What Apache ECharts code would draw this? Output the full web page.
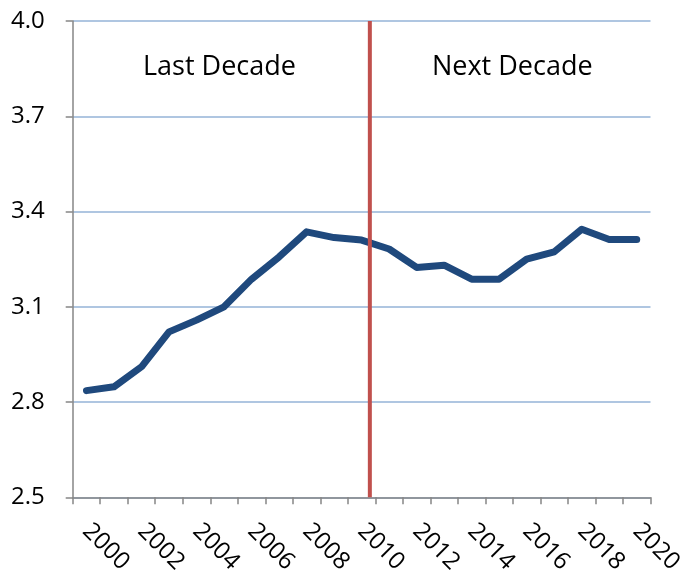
<!DOCTYPE html>
<html>
<head>
<meta charset="utf-8">
<script src="https://cdn.jsdelivr.net/npm/echarts@6/dist/echarts.min.js"></script>
<style>
  html, body { margin: 0; padding: 0; background: #fff; }
  #chart { width: 686px; height: 578px; }
</style>
</head>
<body>
<div id="chart"></div>
<script>
// years on the x axis
var years = [];
for (var y = 2000; y <= 2020; y++) years.push(String(y));

// values
var values = [2.836, 2.848, 2.911, 3.021, 3.058, 3.100, 3.187, 3.257, 3.336, 3.318, 3.310,
              3.282, 3.224, 3.231, 3.187, 3.187, 3.250, 3.273, 3.344, 3.312, 3.312];

// y axis range
var yMin = 2.5, yMax = 4.0, yStep = 0.3;

// divider between the two decades
var dividerYear = 2010.3;
var dividerLine = [[dividerYear, yMin], [dividerYear, yMax]];

var fontName = "Open Sans";

var chart = echarts.init(document.getElementById("chart"));

var option = {
  animation: false,
  backgroundColor: "#fff",
  grid: { left: 72.7, right: 29.3, top: 21, bottom: 80.7 },
  xAxis: [{
    type: "category",
    data: years,
    boundaryGap: true,
    axisLine: { lineStyle: { color: "#868686", width: 1.5 } },
    axisTick: { show: true, interval: 0, length: 7, lineStyle: { color: "#868686", width: 1.5 } },
    axisLabel: {
      interval: 1,
      rotate: -45,
      margin: 30,
      color: "#000",
      fontSize: 24,
      fontFamily: fontName
    },
    splitLine: { show: false }
  }, {
    type: "value",
    min: 1999.5,
    max: 2020.5,
    show: false
  }],
  yAxis: {
    type: "value",
    min: yMin,
    max: yMax,
    interval: yStep,
    axisLine: { show: true, lineStyle: { color: "#868686", width: 1.5 } },
    axisTick: { show: true, length: 7, lineStyle: { color: "#868686", width: 1.5 } },
    axisLabel: {
      margin: 28,
      color: "#000",
      fontSize: 24,
      fontFamily: fontName,
      formatter: function (v) { return v.toFixed(1); }
    },
    splitLine: { show: true, lineStyle: { color: "#95B3D7", width: 1.5 } }
  },
  series: [{
    type: "line",
    data: values,
    symbol: "none",
    lineStyle: { color: "#1F497D", width: 7, join: "round", cap: "round" },
    z: 2
  }, {
    type: "line",
    xAxisIndex: 1,
    data: dividerLine,
    symbol: "none",
    lineStyle: { color: "#C0504D", width: 4 },
    z: 3
  }],
  graphic: [{
    type: "text",
    left: 143, top: 54,
    style: { text: "Last Decade", fontSize: 27, fontFamily: fontName, fill: "#000" }
  }, {
    type: "text",
    left: 432, top: 54,
    style: { text: "Next Decade", fontSize: 27, fontFamily: fontName, fill: "#000" }
  }]
};

chart.setOption(option);
</script>
</body>
</html>
